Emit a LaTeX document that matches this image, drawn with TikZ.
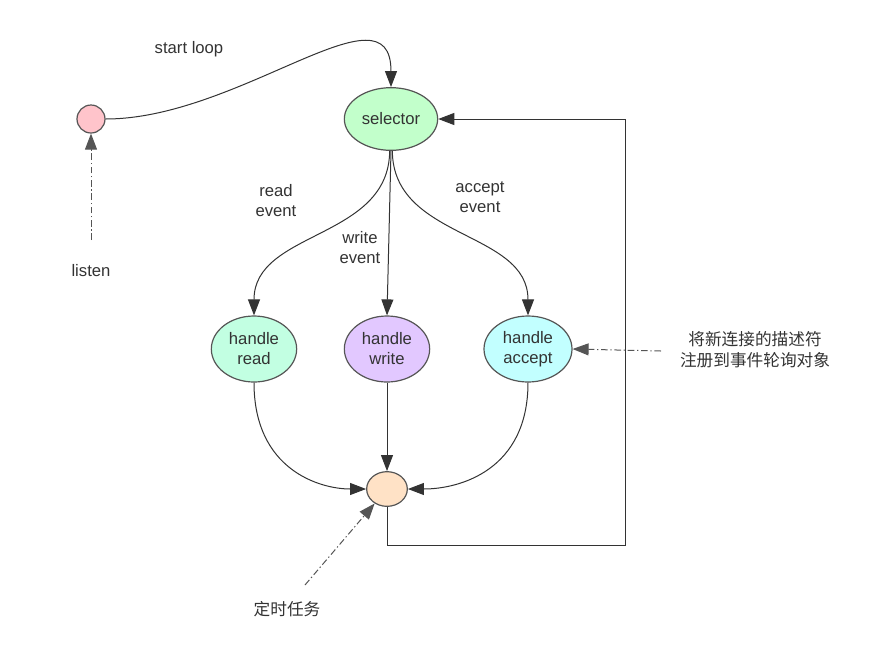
\documentclass[tikz,border=0pt]{standalone}
\usepackage{fontspec}
\setmainfont{Liberation Sans}
\newfontfamily\cjk{Noto Sans CJK SC}
\usetikzlibrary{arrows.meta,shapes.geometric}
\definecolor{txt}{HTML}{333333}
\definecolor{edge}{HTML}{555555}
\definecolor{cpink}{HTML}{FFC4CB}
\definecolor{cgreen}{HTML}{C2FFCB}
\definecolor{cmint}{HTML}{C2FFE2}
\definecolor{cviolet}{HTML}{E2C8FF}
\definecolor{ccyan}{HTML}{C2FFFF}
\definecolor{cpeach}{HTML}{FFE2C6}
\begin{document}
\begin{tikzpicture}[x=0.75pt,y=-0.75pt,
  font=\fontsize{12.5}{15}\selectfont, text=txt,
  state/.style={ellipse, draw=edge, line width=0.9pt, inner sep=0pt, align=center},
  arr/.style={draw=txt, line width=0.75pt, -{Triangle[length=12pt,width=9pt]}},
  dd/.style={arr, draw=edge, dash pattern=on 5pt off 2pt on 1pt off 2pt},
  lbl/.style={align=center, inner sep=0pt}]
\useasboundingbox (0,0) rectangle (879,647);
% nodes
\node[state, fill=cpink, minimum width=21pt, minimum height=21pt] (start) at (91,119) {};
\node[state, fill=cgreen, minimum width=70pt, minimum height=47pt] (sel) at (391,119) {selector};
\node[state, fill=cmint, minimum width=64pt, minimum height=49.5pt] (read) at (254,349) {handle\\read};
\node[state, fill=cviolet, minimum width=64pt, minimum height=49.5pt] (write) at (387,349) {handle\\write};
\node[state, fill=ccyan, minimum width=66pt, minimum height=49.5pt] (acc) at (528,349) {handle\\accept};
\node[state, fill=cpeach, minimum width=30.5pt, minimum height=26pt] (bot) at (387,489) {};
% labels
\node[lbl] (lstart) at (189,49) {start loop};
\node[lbl] (lread) at (276,201) {read\\event};
\node[lbl] (lwrite) at (360,248) {write\\event};
\node[lbl] (lacc) at (480,197) {accept\\event};
\node[lbl] (listen) at (91,271) {listen};
\node[lbl] (timer) at (287,609) {\cjk 定时任务};
\node[lbl, font=\cjk\fontsize{12.5}{15.5}\selectfont] (note) at (755,350) {将新连接的描述符\\注册到事件轮询对象};
% coordinates
\coordinate (l0) at (91,240);
\coordinate (t0) at (305,585);
\coordinate (n0) at (661,351);
\coordinate (c1) at (625,545);
\coordinate (c2) at (625,119);
% edges
\draw[arr] (start.east) .. controls (240,119) and (391,-20) .. (sel.north);
\draw[arr] ([xshift=-1pt]sel.south) .. controls (389,240) and (254,230) .. (read.north);
\draw[arr] (sel.south) -- (write.north);
\draw[arr] ([xshift=1pt]sel.south) .. controls (393,240) and (528,230) .. (acc.north);
\draw[arr] (read.south) .. controls (254,470) and (320,489) .. (bot.west);
\draw[arr] (write.south) -- (bot.north);
\draw[arr] (acc.south) .. controls (528,470) and (460,489) .. (bot.east);
\draw[arr] (bot.south) |- (c1) -- (c2) -- (sel.east);
\draw[dd] (l0) -- (start.south);
\draw[dd] (t0) -- (bot);
\draw[dd] (n0) -- (acc.east);
\end{tikzpicture}
\end{document}
